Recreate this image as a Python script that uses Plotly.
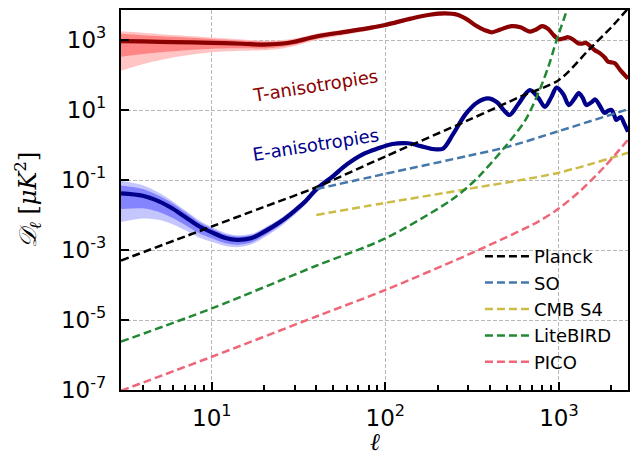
import plotly.graph_objects as go

# ---- CMB temperature (TT) band powers, D_ell in muK^2 ----
ell_tt = [3, 4, 6, 10, 15, 20, 25, 30, 40, 60, 80, 100, 140, 180, 220, 260, 300, 330,
          370, 410, 460, 535, 600, 680, 740, 800, 870, 930, 1000, 1060, 1130, 1200,
          1290, 1360, 1430, 1520, 1610, 1720, 1830, 1920, 2000, 2100, 2250, 2500]
dl_tt = [930, 910, 870, 830, 780, 740, 780, 890, 1260, 1740, 2190, 2690, 4070, 5250,
         5750, 5250, 3700, 2630, 1950, 1660, 2000, 2500, 2300, 1740, 2000, 2500, 2050,
         1380, 1050, 1100, 1200, 1050, 810, 790, 830, 660, 510, 420, 320, 240, 230,
         215, 140, 79]

# cosmic-variance bands for TT (log10 offsets above / below, first 15 multipoles)
tt_in_up = [0.21, 0.18, 0.15, 0.11, 0.09, 0.08, 0.07, 0.065, 0.055, 0.045, 0.04, 0.035, 0.03, 0.028, 0.025]
tt_in_dn = [0.45, 0.36, 0.26, 0.17, 0.13, 0.11, 0.09, 0.08, 0.07, 0.055, 0.05, 0.042, 0.035, 0.032, 0.03]
tt_out_up = [0.28, 0.25, 0.20, 0.15, 0.125, 0.11, 0.10, 0.09, 0.08, 0.065, 0.06, 0.05, 0.045, 0.04, 0.035]
tt_out_dn = [0.85, 0.65, 0.44, 0.27, 0.20, 0.16, 0.14, 0.12, 0.10, 0.08, 0.07, 0.06, 0.05, 0.045, 0.04]

# ---- CMB E-mode polarisation (EE) band powers ----
ell_ee = [3, 4, 5, 6, 7, 8.5, 10, 12, 14, 17, 20, 25, 30, 35, 40, 50, 60, 75, 90, 110,
          135, 160, 190, 215, 245, 290, 340, 390, 440, 480, 520, 580, 680, 760, 830,
          900, 970, 1060, 1140, 1220, 1300, 1370, 1440, 1540, 1620, 1720, 1830, 1920,
          2010, 2080, 2140, 2270, 2380, 2500]
dl_ee = [0.0417, 0.0355, 0.024, 0.0148, 0.0089, 0.0047, 0.0032, 0.0022, 0.00195,
         0.0022, 0.0033, 0.0065, 0.0132, 0.026, 0.054, 0.13, 0.28, 0.56, 0.79, 1.07,
         1.12, 0.93, 0.76, 0.79, 2.0, 7.6, 16.6, 21.4, 16.6, 10.0, 7.2, 14.1, 37.0,
         22.4, 12.3, 22.4, 43.7, 28.2, 13.8, 20.0, 30.2, 22.4, 13.8, 16.6, 20.0, 13.2,
         8.3, 9.5, 10.0, 7.1, 5.2, 6.3, 4.0, 2.4]

# cosmic-variance bands for EE (first 22 multipoles)
ee_in_up = [0.22, 0.19, 0.16, 0.15, 0.14, 0.12, 0.11, 0.10, 0.095, 0.085, 0.08, 0.07, 0.065,
            0.06, 0.055, 0.05, 0.045, 0.04, 0.037, 0.033, 0.03, 0.028]
ee_in_dn = [0.45, 0.36, 0.30, 0.26, 0.23, 0.20, 0.17, 0.15, 0.14, 0.12, 0.11, 0.09, 0.08,
            0.075, 0.07, 0.06, 0.055, 0.05, 0.045, 0.04, 0.035, 0.032]
ee_out_up = [0.36, 0.30, 0.25, 0.21, 0.19, 0.17, 0.15, 0.14, 0.13, 0.12, 0.11, 0.10, 0.09,
             0.085, 0.08, 0.07, 0.065, 0.06, 0.055, 0.05, 0.045, 0.04]
ee_out_dn = [0.82, 0.65, 0.52, 0.44, 0.38, 0.32, 0.27, 0.23, 0.21, 0.18, 0.16, 0.14, 0.12,
             0.11, 0.10, 0.09, 0.08, 0.07, 0.065, 0.055, 0.05, 0.045]

# ---- experiment noise curves N_ell (muK^2) ----
ell_planck = [3, 10, 20, 40, 100, 300, 600, 1000, 1500, 2000, 2500]
nl_planck = [5.0e-4, 4.7e-3, 0.017, 0.062, 0.47, 5.1, 24, 72, 550, 2290, 7900]

ell_so = [40, 100, 300, 500, 1000, 2500]
nl_so = [0.055, 0.15, 0.49, 0.87, 2.5, 10.5]

ell_s4 = [40, 96, 290, 1000, 2500]
nl_s4 = [0.010, 0.0214, 0.054, 0.162, 0.60]

ell_litebird = [3, 10, 40, 100, 240, 330, 490, 640, 760, 870, 970, 1110, 1150]
nl_litebird = [2.4e-6, 2.14e-5, 3.55e-4, 2.14e-3, 0.0269, 0.1, 0.89, 5.1, 30, 174,
               1000, 7240, 15800]

ell_pico = [3, 10, 40, 100, 344, 761, 1000, 1340, 1830, 2500]
nl_pico = [9.5e-8, 8.9e-7, 1.26e-5, 7.2e-5, 1.0e-3, 6.5e-3, 0.0155, 0.051, 0.24, 1.41]

noise = [
    ("Planck", ell_planck, nl_planck, "black"),
    ("SO", ell_so, nl_so, "#4477AA"),
    ("CMB S4", ell_s4, nl_s4, "#CCBB44"),
    ("LiteBIRD", ell_litebird, nl_litebird, "#228833"),
    ("PICO", ell_pico, nl_pico, "#EE6677"),
]

y_tickvals = [1e-7, 1e-5, 1e-3, 1e-1, 1e1, 1e3]
y_ticktext = ["10<sup>-7</sup>", "10<sup>-5</sup>", "10<sup>-3</sup>",
              "10<sup>-1</sup>", "10<sup>1</sup>", "10<sup>3</sup>"]
x_tickvals = [10, 100, 1000]
x_ticktext = ["10<sup>1</sup>", "10<sup>2</sup>", "10<sup>3</sup>"]
x_minor = [4, 5, 6, 7, 8, 9, 20, 30, 40, 50, 60, 70, 80, 90,
           200, 300, 400, 500, 600, 700, 800, 900, 2000]


def band(ell, dl, up, dn):
    n = len(up)
    xs = list(ell[:n]) + list(ell[:n])[::-1]
    hi = [d * 10 ** u for d, u in zip(dl[:n], up)]
    lo = [d / 10 ** v for d, v in zip(dl[:n], dn)]
    return xs, hi + lo[::-1]


fig = go.Figure()

for ell, dl, bands, colors in [
    (ell_tt, dl_tt, [(tt_out_up, tt_out_dn), (tt_in_up, tt_in_dn)],
     ["rgb(255,196,196)", "rgb(255,132,132)"]),
    (ell_ee, dl_ee, [(ee_out_up, ee_out_dn), (ee_in_up, ee_in_dn)],
     ["rgb(198,198,255)", "rgb(132,132,255)"]),
]:
    for (up, dn), col in zip(bands, colors):
        xs, ys = band(ell, dl, up, dn)
        fig.add_trace(go.Scatter(x=xs, y=ys, mode="lines", fill="toself",
                                 fillcolor=col, line=dict(width=0, shape="spline", smoothing=0.8),
                                 hoverinfo="skip", showlegend=False))

fig.add_trace(go.Scatter(x=ell_tt, y=dl_tt, mode="lines", showlegend=False,
                         line=dict(color="#8b0000", width=4.2, shape="spline", smoothing=0.9)))
fig.add_trace(go.Scatter(x=ell_ee, y=dl_ee, mode="lines", showlegend=False,
                         line=dict(color="#00008b", width=4.2, shape="spline", smoothing=0.9)))

for name, ell, nl, col in noise:
    fig.add_trace(go.Scatter(x=ell, y=nl, mode="lines", name=name,
                             line=dict(color=col, width=2.5, dash="8px,4px",
                                       shape="spline", smoothing=0.8)))

axis_common = dict(type="log", showline=True, linecolor="black", linewidth=2.2,
                   mirror=True, ticks="inside", tickcolor="black", tickwidth=2,
                   ticklen=8, showgrid=True, gridcolor="#b8b8b8", gridwidth=1,
                   griddash="4px,2px", zeroline=False,
                   tickfont=dict(family="DejaVu Sans", size=23, color="black"))

fig.update_xaxes(range=[0.4771, 3.3979], tickmode="array", tickvals=x_tickvals,
                 ticktext=x_ticktext, ticklabelstandoff=6,
                 minor=dict(tickmode="array", tickvals=x_minor, ticks="inside",
                            ticklen=4.5, tickwidth=1.5, tickcolor="black", showgrid=False),
                 **axis_common)
fig.update_yaxes(range=[-7, 3.857], tickmode="array", tickvals=y_tickvals,
                 ticktext=y_ticktext, ticklabelstandoff=8, **axis_common)

fig.add_annotation(text="T-anisotropies", xref="paper", yref="paper", x=0.383, y=0.861,
                   showarrow=False, textangle=-9,
                   font=dict(family="DejaVu Sans", size=18, color="#8b0000"))
fig.add_annotation(text="E-anisotropies", xref="paper", yref="paper", x=0.384, y=0.645,
                   showarrow=False, textangle=-9,
                   font=dict(family="DejaVu Sans", size=18, color="#00008b"))
fig.add_annotation(text="<i>𝒟<sub>ℓ</sub></i> [<i>μK</i><sup>2</sup>]", xref="paper", yref="paper",
                   x=-0.185, y=0.5, xanchor="center", yanchor="middle",
                   showarrow=False, textangle=-90,
                   font=dict(family="DejaVu Serif", size=24, color="black"))
fig.add_annotation(text="<i>ℓ</i>", xref="paper", yref="paper", x=0.5, y=-0.137,
                   xanchor="center", yanchor="middle",
                   showarrow=False, font=dict(family="DejaVu Serif", size=24, color="black"))

fig.update_layout(
    width=635, height=457, margin=dict(l=121, r=5, t=10, b=67),
    plot_bgcolor="white", paper_bgcolor="white",
    legend=dict(x=0.708, y=0.40, xanchor="left", yanchor="top", itemwidth=44,
                bgcolor="rgba(0,0,0,0)", borderwidth=0, tracegroupgap=0,
                font=dict(family="DejaVu Sans", size=18, color="black")),
)

fig.write_html("out.html")
